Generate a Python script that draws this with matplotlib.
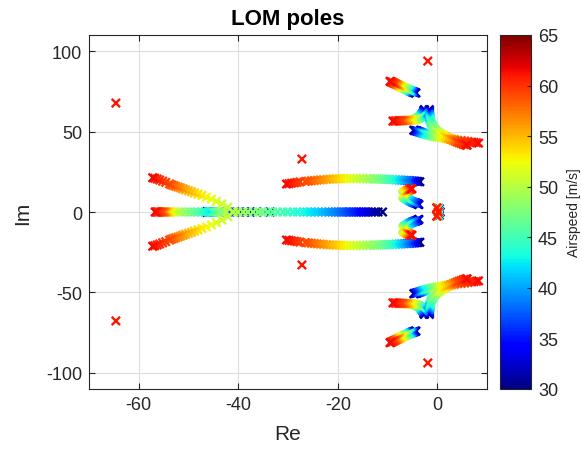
"""Root locus of the LOM poles against airspeed (MATLAB-style jet scatter)."""

import matplotlib
matplotlib.use("Agg")
import matplotlib.pyplot as plt
import numpy as np

plt.rcParams.update({
    "font.family": ["Liberation Sans", "DejaVu Sans"],
    "font.size": 13,
    "axes.unicode_minus": False,
    "axes.edgecolor": "#262626",
    "axes.linewidth": 0.8,
    "xtick.color": "#262626",
    "ytick.color": "#262626",
    "xtick.direction": "in",
    "ytick.direction": "in",
    "xtick.top": True,
    "ytick.right": True,
})

# airspeed samples [m/s] shared by most branches (finer steps near the top)
AIRSPEED = [30, 31, 32, 33, 34, 35, 36, 37, 38, 39, 40, 41, 42, 43, 44, 45, 46, 47,
            48, 49, 50, 51, 52, 53, 54, 55, 56, 57, 58, 59, 59.4, 59.8, 60.2, 60.6, 61.0, 61.4]

# real pole moving left with airspeed
R1_RE = [-33.6, -35.0, -36.3, -37.5, -38.6, -39.6, -40.6, -41.6, -42.6, -43.6, -44.5, -45.3,
         -46.0, -46.6, -47.3, -48.0, -48.8, -49.7, -50.6, -51.5, -52.3, -52.9, -53.4, -53.8,
         -54.1, -54.4, -54.6, -54.8, -55.0, -55.3, -55.6, -55.9, -56.1, -56.3, -56.5, -56.7]

# complex pair above the breakaway point
CP_V = [50, 50.5, 51, 51.5, 52, 52.5, 53, 53.5, 54, 54.5, 55, 55.5, 56, 56.5, 57, 57.5, 58,
        58.5, 59, 59.4, 59.8, 60.2, 60.6, 61.0, 61.4]
CP_RE = [-41.0, -42.1, -43.3, -44.4, -45.4, -46.4, -47.3, -48.1, -48.8, -49.4, -50.0, -50.6,
         -51.1, -51.6, -52.1, -52.6, -53.0, -53.4, -53.8, -54.6, -55.2, -55.8, -56.3, -56.8,
         -57.2]
CP_IM = [0.0, 3.0, 5.0, 6.6, 8.0, 9.2, 10.3, 11.1, 11.9, 12.6, 13.2, 13.8, 14.4, 15.0, 15.5,
         16.0, 16.5, 16.9, 17.4, 18.4, 19.2, 19.9, 20.5, 21.0, 21.3]

# the two real poles below breakaway
R2_RE = [-46.3, -46.3, -46.2, -46.2, -46.2, -46.1, -46.1, -46.0, -46.0, -45.9, -45.8, -45.7,
         -45.6, -45.4, -45.1, -44.9, -44.5, -44.0, -43.3, -42.4]
R3_V = [30, 30.5, 31, 31.5, 32, 32.5, 33, 33.5, 34, 34.5, 35, 35.5, 36, 36.5, 37, 37.5, 38,
        38.5, 39, 39.5, 40, 40.5, 41, 41.5, 42, 42.5, 43, 43.5, 44, 44.5, 45, 45.5, 46, 46.5,
        47, 47.5, 48, 48.5, 49, 49.5]
R3_RE = [-11.0, -11.9, -12.6, -13.2, -13.8, -14.3, -14.8, -15.3, -15.8, -16.3, -16.8, -17.3,
         -17.8, -18.3, -18.9, -19.4, -20.0, -20.6, -21.2, -21.8, -22.5, -23.2, -23.9, -24.6,
         -25.4, -26.2, -27.0, -28.1, -29.0, -30.1, -31.0, -32.1, -33.1, -34.0, -35.1, -36.0,
         -37.0, -38.1, -39.0, -40.1]

# long branch near Im = 20
U1_V = [30, 31, 32, 33, 34, 35, 36, 37, 38, 39, 40, 41, 42, 43, 44, 44.5, 45, 45.5, 46, 46.5,
        47, 47.5, 48, 48.5, 49, 49.5, 50, 50.5, 51, 51.5, 52, 52.5, 53, 53.5, 54, 54.5, 55,
        55.5, 56, 56.5, 57, 57.5, 58, 58.5, 59, 59.4, 59.8, 60.2, 60.6, 61.0, 61.4]
U1_RE = [-3.5, -3.8, -4.1, -4.4, -4.7, -5.0, -5.4, -5.7, -6.1, -6.6, -7.2, -7.7, -8.3, -8.9,
         -9.5, -9.9, -10.3, -10.7, -11.1, -11.6, -12.0, -12.5, -12.9, -13.6, -14.2, -14.9,
         -15.5, -16.2, -16.8, -17.5, -18.2, -18.7, -19.3, -19.8, -20.4, -21.0, -21.6, -22.2,
         -22.9, -23.5, -24.1, -24.7, -25.3, -25.9, -26.5, -27.6, -28.2, -28.7, -29.3, -29.8,
         -30.3]
U1_IM = [18.8, 18.9, 19.0, 19.1, 19.2, 19.3, 19.4, 19.5, 19.6, 19.7, 19.8, 19.9, 20.0, 20.1,
         20.2, 20.25, 20.3, 20.35, 20.4, 20.45, 20.5, 20.55, 20.6, 20.65, 20.7, 20.75, 20.8,
         20.8, 20.8, 20.8, 20.8, 20.75, 20.7, 20.65, 20.6, 20.5, 20.4, 20.25, 20.1, 19.95,
         19.8, 19.6, 19.4, 19.2, 19.0, 18.7, 18.4, 18.1, 17.9, 17.6, 17.4]

# small hook near -5 +/- 10i
L1_RE = [-3.7, -3.8, -3.9, -4.0, -4.2, -4.3, -4.5, -4.7, -4.9, -5.1, -5.4, -5.6, -5.8, -6.0,
         -6.2, -6.4, -6.6, -6.7, -6.8, -6.9, -6.9, -6.8, -6.7, -6.5, -6.3, -6.1, -5.9, -5.8,
         -5.6, -5.5, -5.4, -5.3, -5.3, -5.2, -5.2, -5.1]
L1_IM = [4.6, 4.8, 5.0, 5.2, 5.4, 5.6, 5.7, 5.9, 6.1, 6.4, 6.8, 7.2, 7.6, 8.0, 8.3, 8.7, 9.2,
         9.6, 10.0, 10.5, 11.0, 11.5, 12.0, 12.4, 12.8, 13.1, 13.4, 13.6, 13.8, 14.0, 14.1,
         14.2, 14.3, 14.4, 14.5, 14.5]

# high-frequency branches (upper right)
T1_RE = [-4.3, -4.4, -4.5, -4.6, -4.7, -4.8, -4.9, -5.0, -5.1, -5.2, -5.3, -5.4, -5.5, -5.6,
         -5.7, -5.9, -6.0, -6.2, -6.4, -6.5, -6.7, -6.9, -7.1, -7.3, -7.5, -7.7, -7.9, -8.1,
         -8.3, -8.5, -8.7, -8.9, -9.0, -9.2, -9.3, -9.5]
T1_IM = [74.0, 74.1, 74.2, 74.3, 74.4, 74.5, 74.6, 74.7, 74.8, 74.9, 75.1, 75.2, 75.4, 75.5,
         75.7, 75.9, 76.1, 76.4, 76.6, 76.8, 77.1, 77.4, 77.7, 78.0, 78.3, 78.6, 78.9, 79.2,
         79.5, 79.8, 80.1, 80.4, 80.6, 80.8, 81.0, 81.2]
T2_RE = [-2.6, -2.6, -2.6, -2.7, -2.7, -2.7, -2.8, -2.8, -2.9, -3.0, -3.1, -3.2, -3.3, -3.4,
         -3.5, -3.6, -3.8, -3.9, -4.1, -4.3, -4.5, -4.7, -5.0, -5.3, -5.6, -5.9, -6.2, -6.5,
         -6.8, -7.1, -7.4, -7.7, -8.0, -8.3, -8.6, -8.9]
T2_IM = [63.6, 63.3, 63.0, 62.7, 62.4, 62.1, 61.8, 61.5, 61.2, 60.8, 60.4, 60.0, 59.6, 59.3,
         59.0, 58.7, 58.4, 58.2, 57.9, 57.7, 57.5, 57.3, 57.2, 57.1, 57.0, 57.0, 56.9, 56.9,
         56.8, 56.8, 56.7, 56.7, 56.6, 56.6, 56.5, 56.5]
T3_RE = [-1.6, -1.6, -1.6, -1.6, -1.6, -1.6, -1.6, -1.6, -1.6, -1.6, -1.5, -1.5, -1.5, -1.4,
         -1.4, -1.3, -1.1, -0.9, -0.6, -0.3, 0.1, 0.5, 0.8, 1.2, 1.7, 2.2, 2.7, 3.2, 3.6, 4.0,
         4.4, 4.8, 5.2, 5.5, 5.8, 6.0]
T3_IM = [63.6, 63.2, 62.8, 62.4, 62.0, 61.6, 61.1, 60.7, 60.3, 59.8, 59.3, 58.8, 58.2, 57.7,
         57.1, 55.8, 54.5, 53.2, 51.9, 50.8, 49.8, 48.9, 48.2, 47.6, 46.7, 45.9, 45.2, 44.5,
         44.0, 43.5, 43.0, 42.6, 42.2, 41.9, 41.7, 41.5]
T4_RE = [-4.7, -4.6, -4.4, -4.3, -4.1, -4.0, -3.8, -3.6, -3.4, -3.2, -3.0, -2.8, -2.6, -2.3,
         -1.9, -1.6, -1.2, -0.9, -0.5, -0.1, 0.3, 0.8, 1.2, 1.7, 2.1, 2.6, 3.0, 3.5, 4.1, 4.8,
         5.5, 6.2, 6.9, 7.4, 7.9, 8.3]
T4_IM = [50.8, 50.7, 50.6, 50.5, 50.4, 50.2, 50.0, 49.8, 49.6, 49.4, 49.1, 48.9, 48.7, 48.4,
         48.1, 47.8, 47.5, 47.2, 47.0, 46.7, 46.5, 46.2, 46.0, 45.8, 45.6, 45.3, 45.1, 44.9,
         44.6, 44.4, 44.1, 43.8, 43.5, 43.3, 43.0, 42.8]

# nearly fixed poles around the origin
N1_V = [30, 35, 40, 45, 50, 55, 59, 61]
N1_RE = [0.4, 0.35, 0.3, 0.2, 0.1, 0.0, -0.05, -0.1]
N1_IM = [2.0, 2.1, 2.2, 2.3, 2.4, 2.5, 2.5, 2.6]
N2_V = [30, 45, 61]
N2_RE = [0.6, 0.4, 0.2]

# poles that do not move with airspeed (drawn in the top-speed colour)
STATIC_V = [61, 61, 61]
STATIC_RE = [-64.6, -27.2, -1.9]
STATIC_IM = [67.7, 32.9, 93.8]


def main() -> None:
    v_all = np.array(AIRSPEED, dtype=float)
    # (airspeed, re, im, mirror to lower half)
    branches = [
        (v_all, R1_RE, None, False),
        (CP_V, CP_RE, CP_IM, True),
        (v_all[:20], R2_RE, None, False),
        (R3_V, R3_RE, None, False),
        (U1_V, U1_RE, U1_IM, True),
        (v_all, L1_RE, L1_IM, True),
        (v_all, T1_RE, T1_IM, True),
        (v_all, T2_RE, T2_IM, True),
        (v_all, T3_RE, T3_IM, True),
        (v_all, T4_RE, T4_IM, True),
        (N1_V, N1_RE, N1_IM, True),
        (N2_V, N2_RE, None, False),
        (STATIC_V, STATIC_RE, STATIC_IM, True),
    ]
    vs, res, ims = [], [], []
    for v, re, im, mirror in branches:
        v = np.asarray(v, dtype=float)
        re = np.asarray(re, dtype=float)
        im = np.zeros_like(re) if im is None else np.asarray(im, dtype=float)
        vs.append(v); res.append(re); ims.append(im)
        if mirror:
            vs.append(v); res.append(re); ims.append(-im)
    v = np.concatenate(vs)
    re = np.concatenate(res)
    im = np.concatenate(ims)
    order = np.argsort(v, kind="stable")   # high airspeed drawn on top

    fig = plt.figure(figsize=(5.82, 4.52), dpi=100)
    ax = fig.add_axes([89 / 582, 62 / 452, 398 / 582, 354 / 452])
    sc = ax.scatter(re[order], im[order], c=v[order], cmap="jet", vmin=30, vmax=65,
                    marker="x", s=36, linewidths=1.7, zorder=3)
    ax.set_xlim(-70, 10)
    ax.set_ylim(-110, 110)
    ax.set_xticks([-60, -40, -20, 0])
    ax.set_yticks([-100, -50, 0, 50, 100])
    ax.grid(True, color="#dedede", linewidth=0.8)
    ax.set_axisbelow(True)
    ax.tick_params(length=4, width=0.8, labelsize=13, pad=5)
    ax.set_xlabel("Re", fontsize=15, color="#262626", labelpad=8)
    ax.set_ylabel("Im", fontsize=15, color="#262626", labelpad=10)
    ax.set_title("LOM poles", fontsize=16, fontweight="bold", pad=8)

    cax = fig.add_axes([500 / 582, 62 / 452, 31 / 582, 354 / 452])
    cb = fig.colorbar(sc, cax=cax)
    cb.set_ticks([30, 35, 40, 45, 50, 55, 60, 65])
    cb.outline.set_edgecolor("#262626")
    cb.outline.set_linewidth(0.8)
    cax.tick_params(direction="in", length=3, width=0.8, labelsize=13, pad=5,
                    colors="#262626")
    cb.set_label("Airspeed [m/s]", fontsize=10, color="#262626", labelpad=6)

    fig.savefig("out.png", dpi=100)
    plt.close(fig)


if __name__ == "__main__":
    main()
